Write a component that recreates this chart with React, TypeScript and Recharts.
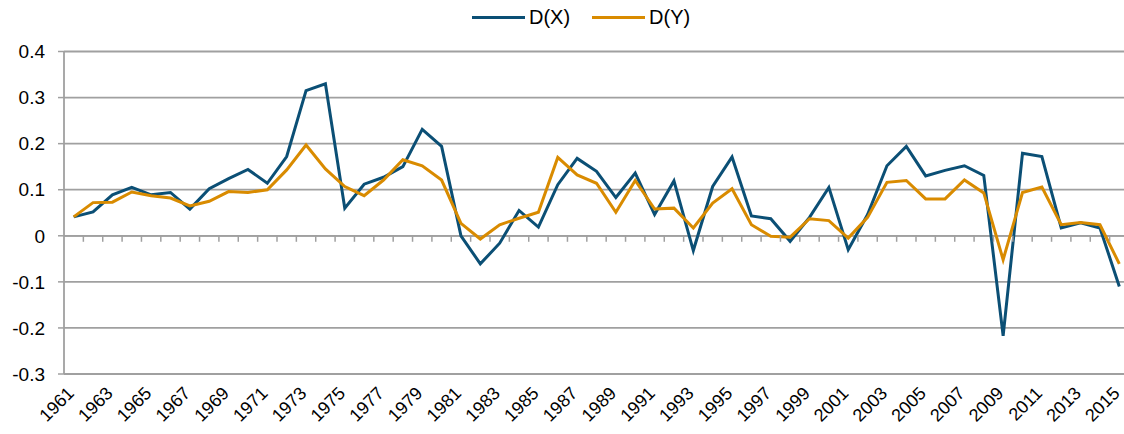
import {
  LineChart,
  Line,
  XAxis,
  YAxis,
  CartesianGrid,
  ReferenceLine,
  ReferenceDot,
  Legend
} from 'recharts'

const years = [
  1961, 1962, 1963, 1964, 1965, 1966, 1967, 1968, 1969, 1970,
  1971, 1972, 1973, 1974, 1975, 1976, 1977, 1978, 1979, 1980,
  1981, 1982, 1983, 1984, 1985, 1986, 1987, 1988, 1989, 1990,
  1991, 1992, 1993, 1994, 1995, 1996, 1997, 1998, 1999, 2000,
  2001, 2002, 2003, 2004, 2005, 2006, 2007, 2008, 2009, 2010,
  2011, 2012, 2013, 2014, 2015
]

const dx = [
  0.041, 0.052, 0.089, 0.105, 0.089, 0.094, 0.058, 0.102, 0.124, 0.144,
  0.114, 0.172, 0.315, 0.33, 0.06, 0.112, 0.127, 0.15, 0.231, 0.194,
  0.0, -0.061, -0.016, 0.055, 0.019, 0.111, 0.168, 0.14, 0.083, 0.136,
  0.046, 0.119, -0.032, 0.107, 0.171, 0.043, 0.037, -0.012, 0.04, 0.105,
  -0.03, 0.046, 0.152, 0.194, 0.13, 0.142, 0.152, 0.131, -0.217, 0.179,
  0.172, 0.017, 0.028, 0.017, -0.11
]

const dy = [
  0.041, 0.072, 0.073, 0.095, 0.087, 0.082, 0.065, 0.075, 0.096, 0.094,
  0.1, 0.143, 0.197, 0.145, 0.107, 0.087, 0.121, 0.165, 0.152, 0.121,
  0.027, -0.007, 0.024, 0.038, 0.051, 0.17, 0.132, 0.114, 0.051, 0.12,
  0.058, 0.06, 0.017, 0.071, 0.102, 0.024, -0.001, -0.003, 0.037, 0.033,
  -0.005, 0.04, 0.116, 0.12, 0.08, 0.08, 0.121, 0.093, -0.052, 0.094,
  0.106, 0.024, 0.029, 0.024, -0.061
]

const yTicks = [-0.3, -0.2, -0.1, 0, 0.1, 0.2, 0.3, 0.4]
const labelYears = years.filter((y, i) => i % 2 === 0)
const tickMarks = years.slice(0, -1).map(y => y + 0.5)

const BLUE = '#0b4f75'
const ORANGE = '#d98b00'
const GRID = '#a0a0a0'
const FONT = 'Liberation Sans, Arial, sans-serif'

const data = years.map((year, i) => ({ year, dx: dx[i], dy: dy[i] }))

function YearTick(props: any) {
  const { x, y, payload } = props
  return (
    <g transform={`translate(${x - 3},${y - 2}) rotate(-45)`}>
      <text
        x={0}
        y={0}
        dy='0.35em'
        textAnchor='end'
        fill='#000'
        fontSize={18}
        fontFamily={FONT}
      >
        {payload.value}
      </text>
    </g>
  )
}

function ZeroTick(props: any) {
  const { cx, cy } = props
  return <line x1={cx} x2={cx} y1={cy} y2={cy + 6} stroke={GRID} strokeWidth={1.5} />
}

function LegendBox() {
  const items = [
    { name: 'D(X)', color: BLUE },
    { name: 'D(Y)', color: ORANGE }
  ]
  return (
    <div style={{ display: 'flex', alignItems: 'center', fontFamily: FONT, fontSize: 20 }}>
      {items.map(it => (
        <div key={it.name} style={{ display: 'flex', alignItems: 'center', marginRight: 22 }}>
          <span style={{ display: 'inline-block', width: 53, height: 3, background: it.color, marginRight: 4 }} />
          <span>{it.name}</span>
        </div>
      ))}
    </div>
  )
}

export default function App() {
  return (
    <div
      style={{
        position: 'absolute',
        left: 0,
        top: 0,
        width: 1124,
        height: 434,
        overflow: 'hidden',
        background: '#fff'
      }}
    >
      <LineChart
        width={1140}
        height={434}
        data={data}
        margin={{ top: 51.5, right: 11, left: 0, bottom: 0 }}
      >
        <CartesianGrid vertical={false} stroke={GRID} strokeWidth={1.8} />
        <XAxis
          dataKey='year'
          type='number'
          domain={[1960.5, 2015.5]}
          ticks={labelYears}
          interval={0}
          axisLine={false}
          tickLine={false}
          height={60}
          tick={<YearTick />}
          tickMargin={12}
        />
        <YAxis
          domain={[-0.3, 0.4]}
          ticks={yTicks}
          width={64}
          axisLine={{ stroke: GRID, strokeWidth: 1.8 }}
          tickLine={{ stroke: GRID, strokeWidth: 1.5 }}
          tickSize={6}
          tickMargin={13}
          tick={{ fill: '#000', fontSize: 19, fontFamily: FONT }}
        />
        <ReferenceLine y={0} stroke={GRID} strokeWidth={1.8} />
        {tickMarks.map(m => (
          <ReferenceDot key={m} x={m} y={0} shape={<ZeroTick />} />
        ))}
        <Legend
          verticalAlign='middle'
          align='center'
          content={<LegendBox />}
          wrapperStyle={{ top: 6, left: 472, width: 300 }}
        />
        <Line
          type='linear'
          dataKey='dx'
          name='D(X)'
          stroke={BLUE}
          strokeWidth={3}
          dot={false}
          isAnimationActive={false}
        />
        <Line
          type='linear'
          dataKey='dy'
          name='D(Y)'
          stroke={ORANGE}
          strokeWidth={3}
          dot={false}
          isAnimationActive={false}
        />
      </LineChart>
    </div>
  )
}
